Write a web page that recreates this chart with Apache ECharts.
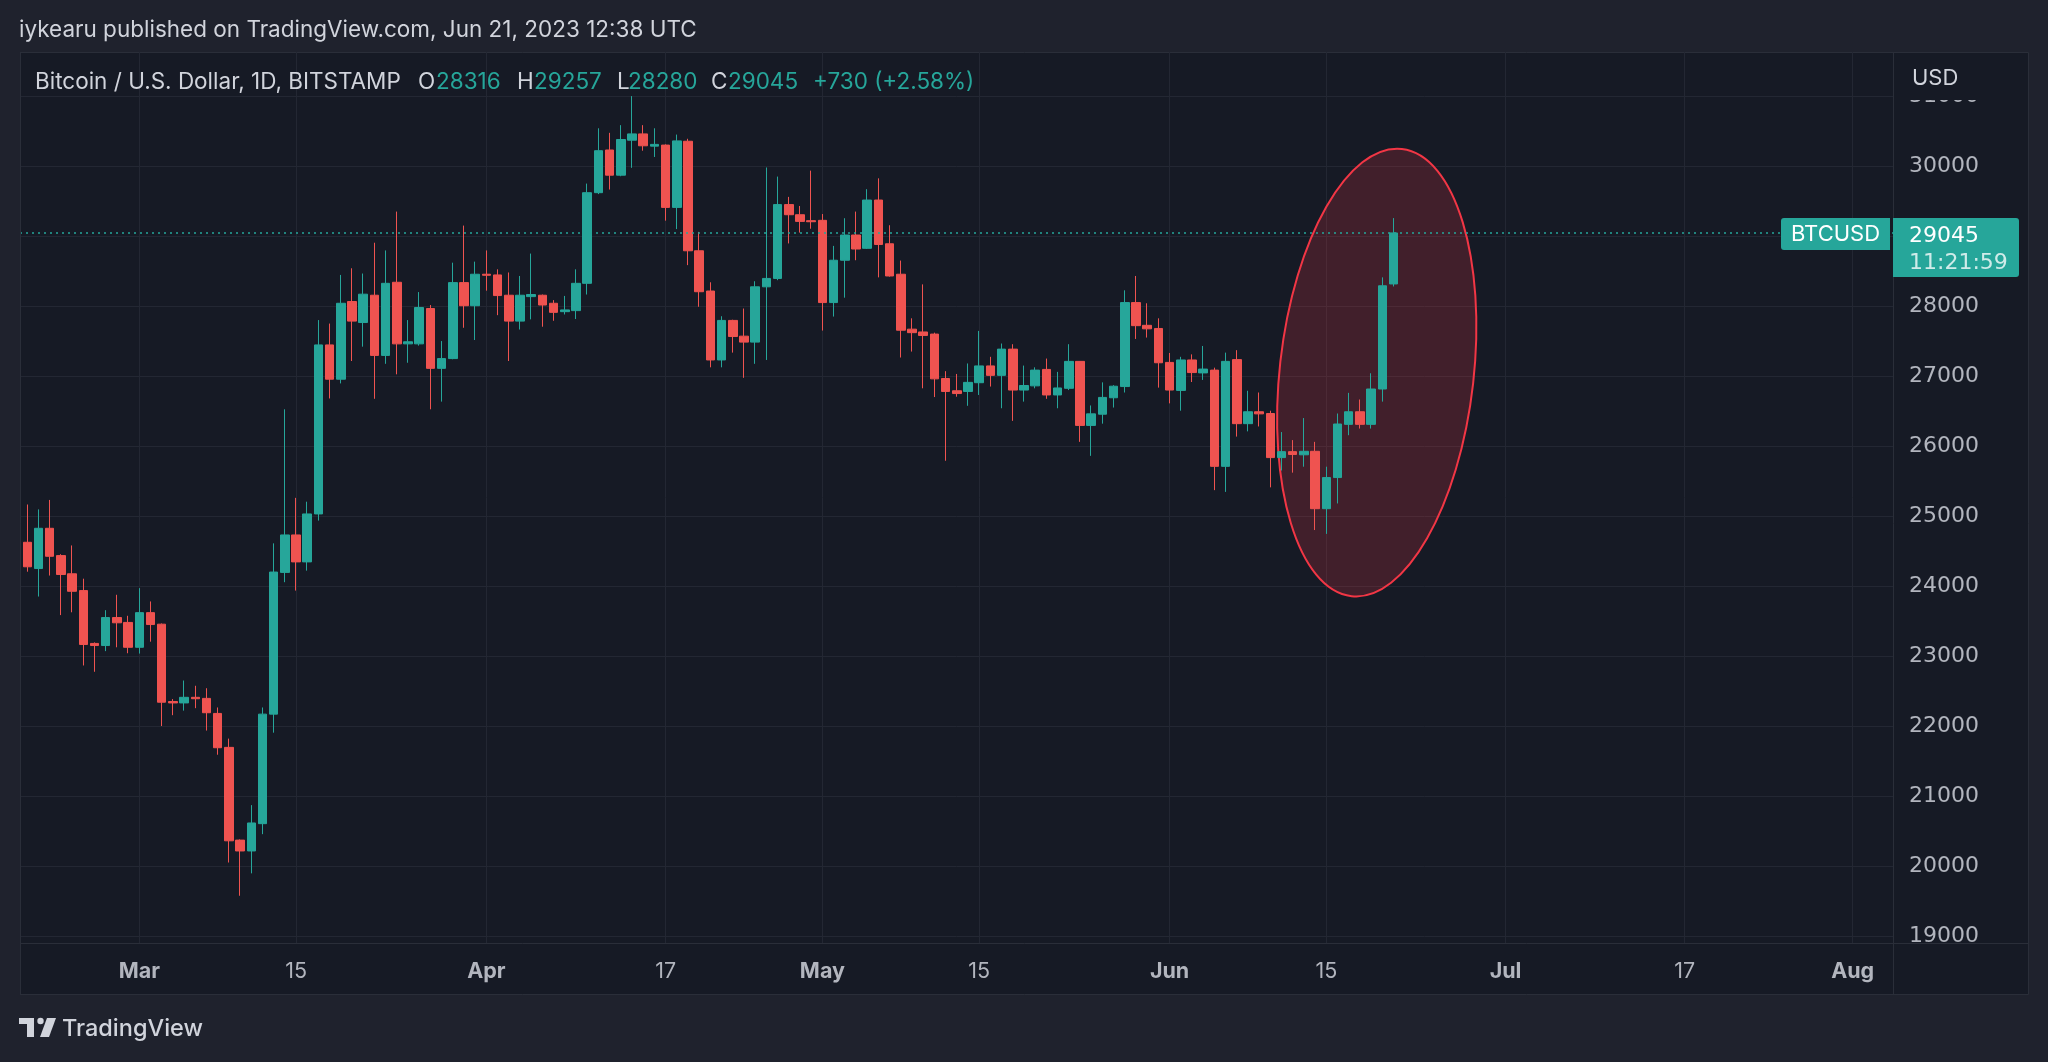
<!DOCTYPE html>
<html><head><meta charset="utf-8">
<script src="https://cdn.jsdelivr.net/npm/echarts@6/dist/echarts.min.js"></script>
<style>html,body{margin:0;padding:0;background:#1f222d;}#c{width:2048px;height:1062px;}</style>
</head><body><div id="c"></div>
<script>
// ---- data (BITSTAMP BTCUSD, 1D, Feb 18 – Jun 21 2023) ----
const firstDay = '2023-02-18';
const opens = [24560,24625,24250,24825,24435,24175,23935,23180,23150,23550,23480,
23125,23620,23455,22350,22330,22410,22395,22180,21695,20370,20215,20605,22170,24195,24730,24345,25030,27445,26955,28065,27765,28155,27295,28340,27460,27460,27965,27110,27250,28335,28005,
28455,28445,28155,27785,28135,28155,28040,27920,27935,28325,29620,30230,29870,30370,30460,30285,30300,29410,30355,28790,28215,27230,27795,27570,27485,28275,28395,29450,29305,29220,
29225,28050,28655,29015,28825,29515,28890,28455,27670,27630,27600,26965,26790,26780,26905,27145,27010,27385,26800,26860,27095,26730,26825,27210,26295,26455,26690,26850,28050,27725,27680,
27195,26795,27230,27045,27085,25710,27235,26320,26490,26465,25835,25920,25875,25925,25105,25550,26310,26490,26310,26815,28316];
const closes = [24630,24275,24825,24425,24165,23925,23165,23150,23550,23475,23125,
23620,23450,22340,22330,22410,22390,22190,21690,20360,20215,20615,22170,24200,24730,24345,25030,27445,26955,28040,27785,28170,27295,28325,27460,27490,27980,27110,27250,28335,28005,28455,
28440,28150,27785,28155,28165,28015,27910,27945,28325,29620,30220,29870,30380,30460,30290,30310,29410,30360,28790,28205,27230,27795,27565,27485,28275,28395,29450,29305,29210,29205,
28050,28655,29015,28815,29515,28880,28430,27655,27620,27580,26960,26780,26750,26910,27145,27010,27385,26800,26865,27085,26730,26830,27210,26295,26460,26695,26855,28050,27720,27675,27190,
26800,27230,27050,27100,25710,27210,26320,26490,26460,25835,25920,25880,25925,25105,25550,26315,26490,26310,26815,28290,29045];
const lows = [24450,24205,23850,24150,23585,23625,22865,22775,23070,23125,23040,
23035,23205,22000,22155,22220,22255,21935,21590,20050,19575,19895,20455,21905,24055,23935,24220,24935,26680,26895,27215,27420,26675,27175,27025,27190,27435,26525,26635,27240,27690,27515,
28220,27870,27215,27665,27810,27705,27790,27880,27815,28165,29600,29665,29855,29975,30220,30130,29220,29100,28585,27990,27125,27125,27335,26975,27175,27230,28370,28895,29050,29105,
27650,27850,28120,28655,28815,28410,28420,27265,27350,26825,26700,25790,26705,26575,26730,26850,26540,26360,26635,26825,26675,26540,26800,26060,25860,26320,26550,26765,27530,27550,26835,
26610,26505,26915,26945,25370,25345,26135,26210,26280,25410,25650,25620,25705,24800,24745,25180,26155,26250,26250,26635,28280];
const highs = [24700,25165,25095,25230,24455,24580,24105,23195,23655,23875,23575,
23970,23780,23465,22385,22650,22575,22540,22265,21820,20380,20870,22265,24610,26525,25260,25205,27800,27750,28445,28540,28465,28905,28795,29350,27800,28200,28015,27500,28620,29150,28635,
28795,28525,28480,28430,28750,28165,28085,28145,28525,29750,30540,30475,30585,31000,30585,30540,30310,30450,30390,29060,28340,27855,27805,27965,28355,29980,29850,29560,29430,29935,
29315,28860,29255,29350,29670,29825,29155,28650,27825,28310,27620,27070,27030,27180,27645,27275,27465,27455,27150,27125,27250,27060,27455,27215,26580,26910,26870,28225,28430,28040,27825,
27330,27275,27310,27430,27120,27335,27370,26790,26765,26505,26200,26085,26400,26060,25705,26465,26760,26665,27040,28410,29257];
const xTickDates = ['2023-03-01','2023-03-15','2023-04-01','2023-04-17','2023-05-01','2023-05-15','2023-06-01','2023-06-15','2023-07-01','2023-07-17','2023-08-01'];
const yTicks = [19000,20000,21000,22000,23000,24000,25000,26000,27000,28000,29000,30000,31000];
const lastPrice = 29045;
const legendItems = [['O','28316'],['H','29257'],['L','28280'],['C','29045']];
const legendChange = '+730 (+2.58%)';

// ---- build ----
const DAY = 86400000;
const ts = s => { const p = s.split('-').map(Number); return Date.UTC(p[0], p[1]-1, p[2]); };
const t0 = ts(firstDay);
const candles = opens.map((o, i) => [t0 + i*DAY, o, closes[i], lows[i], highs[i]]);
const xTicks = xTickDates.map(ts);
const MONTHS = ['Jan','Feb','Mar','Apr','May','Jun','Jul','Aug','Sep','Oct','Nov','Dec'];

const OUTER = '#1f222d', BG = '#161a25', GRID = '#232733', FRAME = '#2a2e39', TXT = '#d1d4dc', AX = '#b2b5be';
const UP = '#26a69a', DOWN = '#ef5350';
const FONT = 'Inter, "Noto Sans", sans-serif';
const NUMFONT = '"DejaVu Sans", Inter, sans-serif';

const chart = echarts.init(document.getElementById('c'), null, {renderer: 'canvas'});
const option = {
  backgroundColor: OUTER,
  animation: false,
  textStyle: {fontFamily: FONT},
  grid: {left: 20, right: 155, top: 52, bottom: 119},
  xAxis: {
    type: 'value',
    min: ts('2023-02-18') + 0.35*DAY,
    max: ts('2023-08-04') + 0.6*DAY,
    axisLine: {show: false},
    axisTick: {show: false, customValues: xTicks},
    splitLine: {show: true, lineStyle: {color: GRID, width: 1}},
    axisLabel: {
      customValues: xTicks, margin: 18, color: AX, fontSize: 21.5, fontFamily: FONT,
      formatter: v => { const d = new Date(v); return d.getUTCDate() === 1 ? '{b|' + MONTHS[d.getUTCMonth()] + '}' : String(d.getUTCDate()); },
      rich: {b: {fontWeight: 'bold', fontSize: 21.5, color: AX, fontFamily: FONT}}
    }
  },
  yAxis: {
    type: 'value', position: 'right', min: 18900, max: 31630, scale: true,
    axisLine: {show: false},
    axisTick: {show: false, customValues: yTicks},
    splitLine: {show: true, lineStyle: {color: GRID, width: 1}},
    axisLabel: {customValues: yTicks, margin: 16, color: AX, fontSize: 22, fontFamily: NUMFONT, align: 'left',
      padding: [6, 0, 0, 0], formatter: v => String(v)}
  },
  series: [{
    type: 'candlestick',
    data: candles,
    encode: {x: 0, y: [1, 2, 3, 4]},
    barWidth: 9,
    clip: true,
    itemStyle: {color: UP, color0: DOWN, borderColor: UP, borderColor0: DOWN, borderWidth: 1},
    markLine: {
      silent: true, symbol: 'none', animation: false,
      label: {show: false},
      lineStyle: {color: UP, type: [2, 4], width: 1.5},
      data: [{yAxis: lastPrice}]
    }
  }]
};
chart.setOption(option);

// ---- overlay (frame, labels, annotation) ----
const yP = chart.convertToPixel({yAxisIndex: 0}, lastPrice);
const ec = chart.convertToPixel({xAxisIndex: 0, yAxisIndex: 0}, [ts('2023-06-19') + 0.5*DAY, 27050]);
const g = [];
g.push({type: 'rect', z: -100, shape: {x: 20.5, y: 52.5, width: 2008, height: 942}, style: {fill: BG, stroke: FRAME, lineWidth: 1}});
g.push({type: 'rect', z: 99, shape: {x: 0, y: 40, width: 20, height: 970}, style: {fill: OUTER}});
g.push({type: 'line', z: 99, shape: {x1: 20.5, y1: 52, x2: 20.5, y2: 995}, style: {stroke: FRAME, lineWidth: 1}});
g.push({type: 'ellipse', z: 1, x: ec[0], y: ec[1], rotation: -0.112, shape: {cx: 0, cy: 0, rx: 97, ry: 225},
  style: {fill: 'rgba(242,54,69,0.2)', stroke: '#f23645', lineWidth: 2}});
g.push({type: 'rect', z: 100, shape: {x: 1894, y: 53, width: 134, height: 47}, style: {fill: BG}});
g.push({type: 'rect', z: 100, shape: {x: 1894, y: 944, width: 134, height: 50}, style: {fill: BG}});
g.push({type: 'text', z: 101, style: {text: 'USD', x: 1912, y: 78, fill: TXT, fontSize: 22, fontFamily: FONT, verticalAlign: 'middle'}});
g.push({type: 'line', z: 102, shape: {x1: 1893.5, y1: 52, x2: 1893.5, y2: 995}, style: {stroke: FRAME, lineWidth: 1}});
g.push({type: 'line', z: 102, shape: {x1: 20, y1: 943.5, x2: 2029, y2: 943.5}, style: {stroke: FRAME, lineWidth: 1}});
g.push({type: 'rect', z: 103, shape: {x: 1781, y: yP - 15, width: 109, height: 32, r: [3, 0, 0, 3]}, style: {fill: UP}});
g.push({type: 'text', z: 104, style: {text: 'BTCUSD', x: 1835.5, y: yP + 1.5, fill: '#ffffff', fontSize: 22, fontFamily: FONT, align: 'center', verticalAlign: 'middle'}});
g.push({type: 'rect', z: 103, shape: {x: 1893, y: yP - 15, width: 126, height: 59, r: [0, 3, 3, 0]}, style: {fill: UP}});
g.push({type: 'text', z: 104, style: {text: String(lastPrice), x: 1909, y: yP + 3, fill: '#ffffff', fontSize: 22, fontFamily: NUMFONT, verticalAlign: 'middle'}});
g.push({type: 'text', z: 104, style: {text: '11:21:59', x: 1909, y: yP + 30, fill: 'rgba(255,255,255,0.78)', fontSize: 22, fontFamily: NUMFONT, verticalAlign: 'middle'}});
g.push({type: 'text', style: {text: 'iykearu published on TradingView.com, Jun 21, 2023 12:38 UTC', x: 19, y: 30, fill: TXT, fontSize: 22.5, fontFamily: FONT, verticalAlign: 'middle'}});
g.push({type: 'text', z: 5, style: {text: 'Bitcoin / U.S. Dollar, 1D, BITSTAMP', x: 35, y: 82, fill: TXT, fontSize: 22.5, fontFamily: FONT, verticalAlign: 'middle'}});
const lx = [[418, 436], [517, 534], [617, 628], [711, 728]];
legendItems.forEach((it, i) => {
  g.push({type: 'text', z: 5, style: {text: it[0], x: lx[i][0], y: 82, fill: TXT, fontSize: 22.5, fontFamily: FONT, verticalAlign: 'middle'}});
  g.push({type: 'text', z: 5, style: {text: it[1], x: lx[i][1], y: 82, fill: UP, fontSize: 22.5, fontFamily: FONT, verticalAlign: 'middle'}});
});
g.push({type: 'text', z: 5, style: {text: legendChange, x: 813, y: 82, fill: UP, fontSize: 22.5, fontFamily: FONT, verticalAlign: 'middle'}});
g.push({type: 'rect', shape: {x: 19, y: 1018, width: 15, height: 6}, style: {fill: TXT}});
g.push({type: 'rect', shape: {x: 27, y: 1018, width: 7, height: 19}, style: {fill: TXT}});
g.push({type: 'circle', shape: {cx: 40.5, cy: 1021, r: 3.2}, style: {fill: TXT}});
g.push({type: 'polygon', shape: {points: [[47, 1018], [56, 1018], [49, 1037], [40, 1037]]}, style: {fill: TXT}});
g.push({type: 'text', style: {text: 'TradingView', x: 62, y: 1029, fill: TXT, fontSize: 23.5, fontWeight: 500, fontFamily: FONT, verticalAlign: 'middle'}});
chart.setOption({graphic: g});
</script></body></html>
